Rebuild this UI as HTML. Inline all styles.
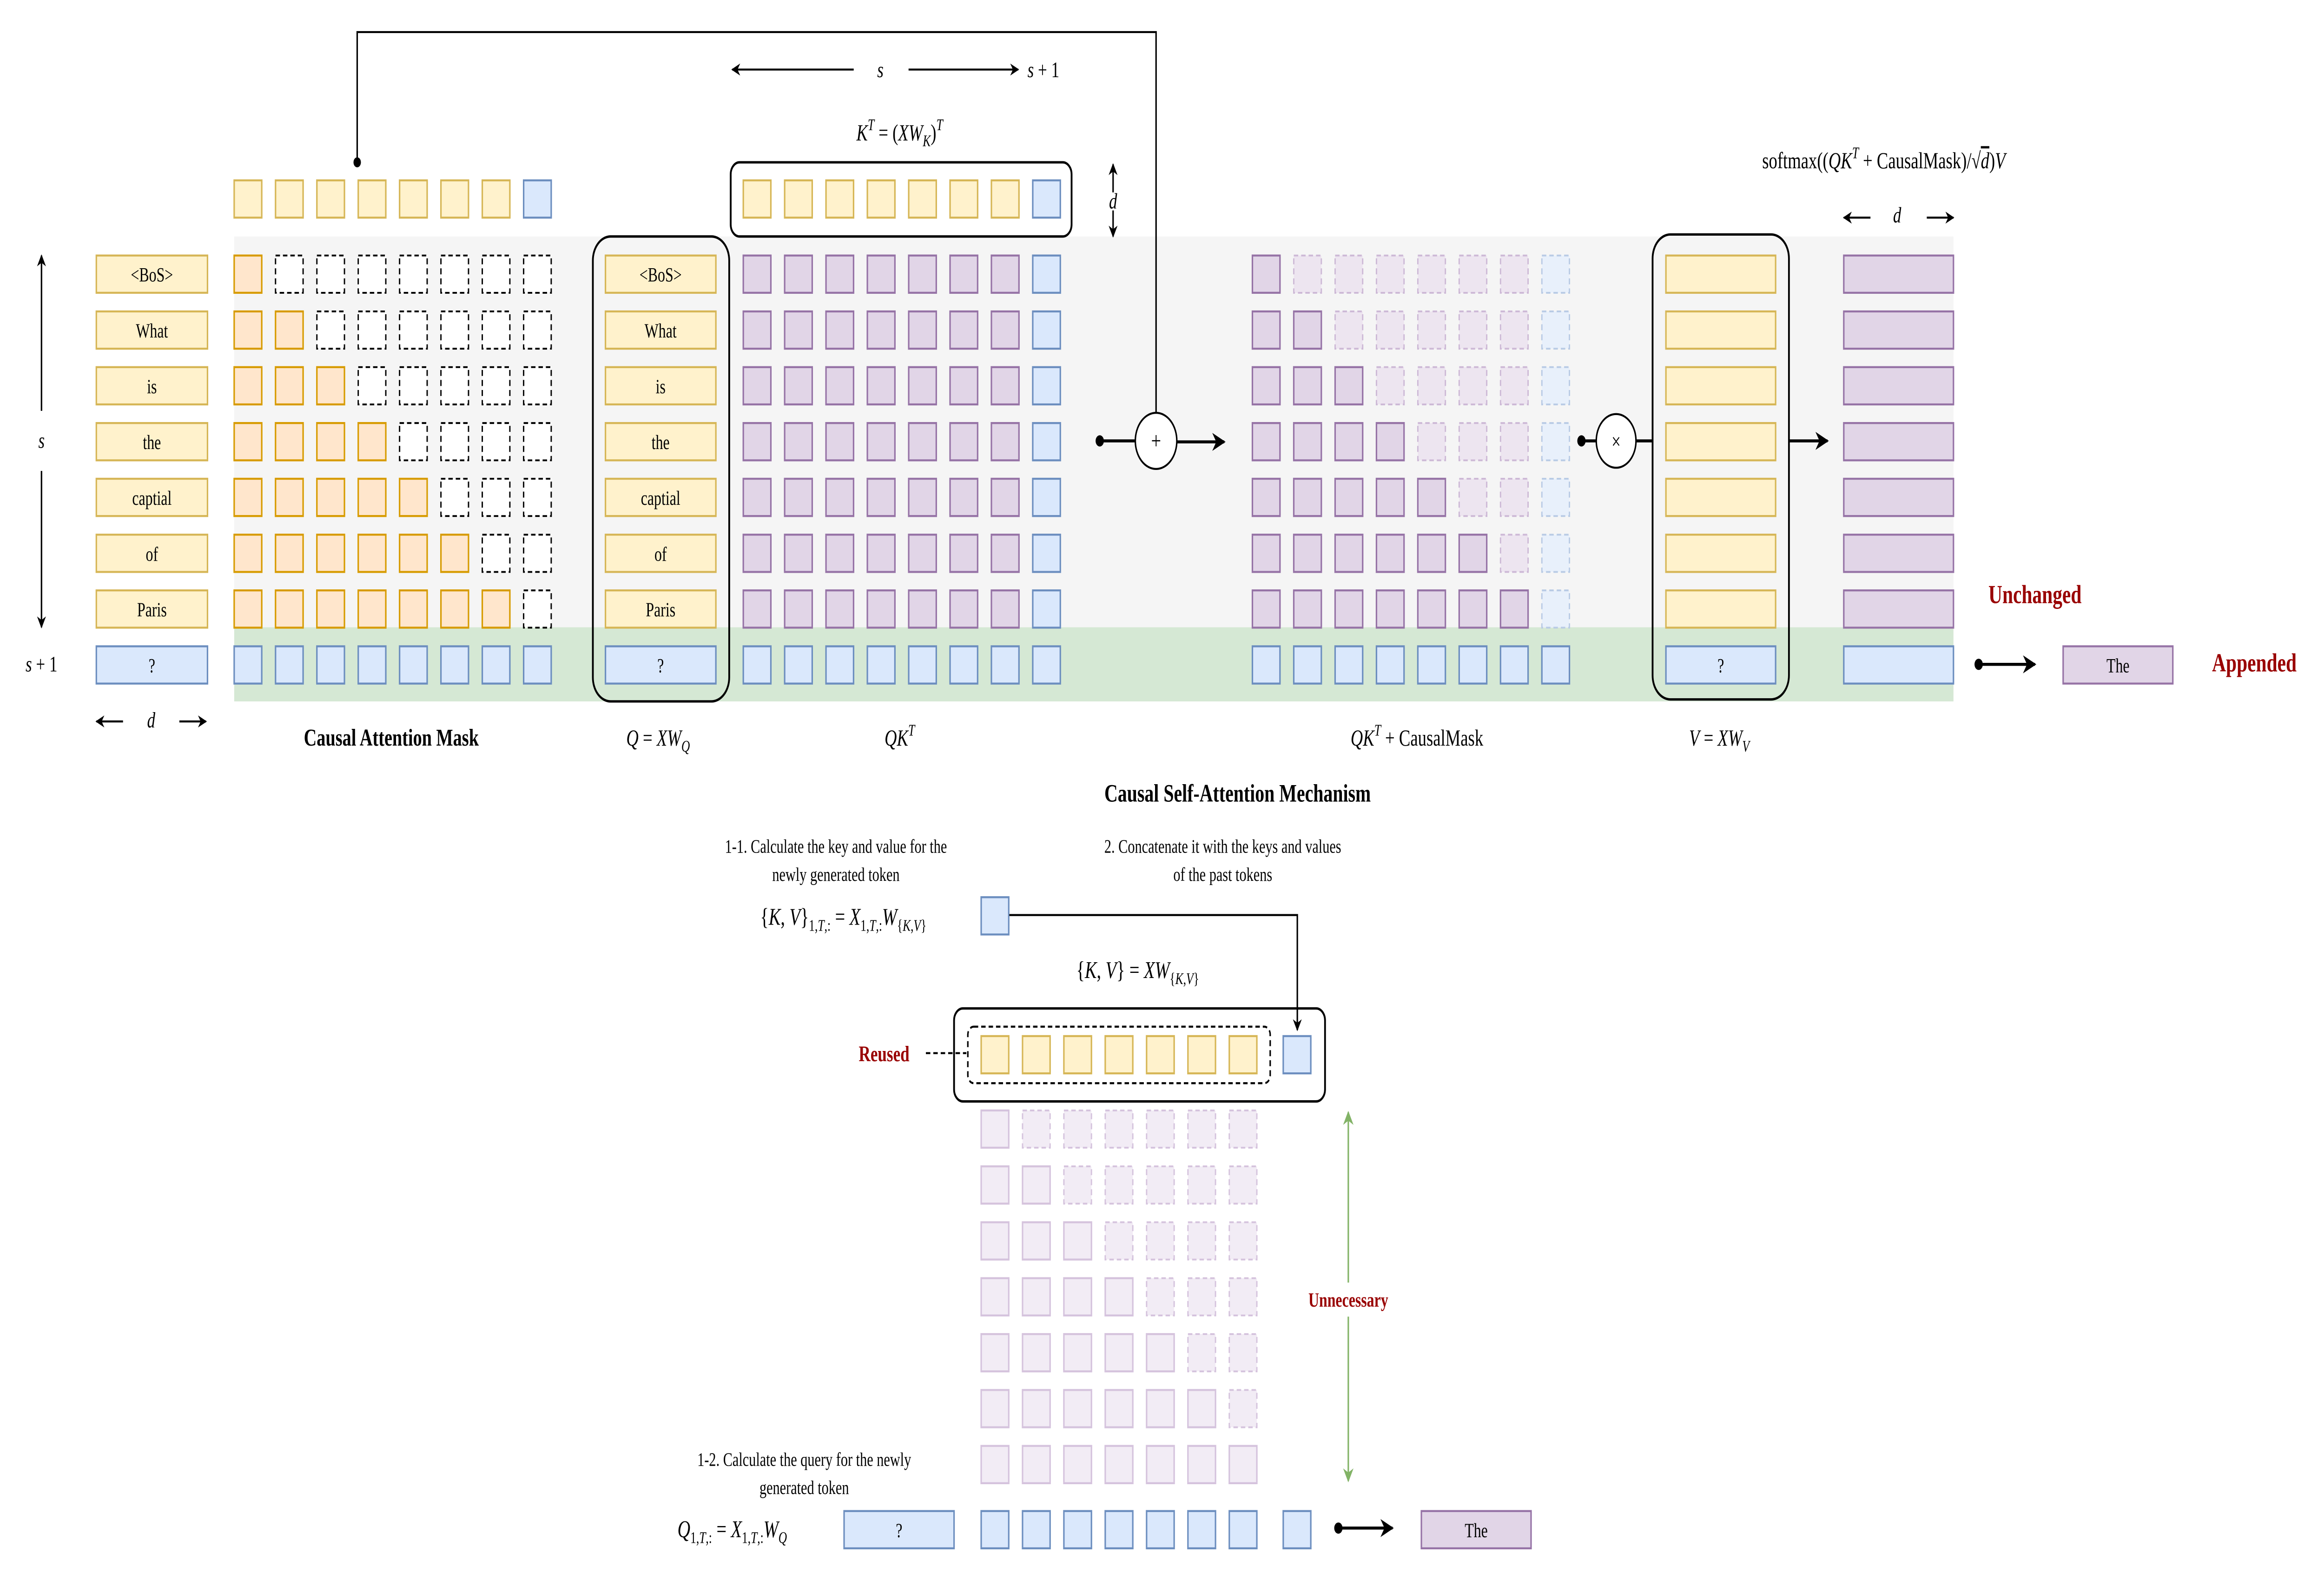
<!DOCTYPE html>
<html><head><meta charset="utf-8"><style>html,body{margin:0;padding:0;background:#fff;width:100%;height:100%;overflow:hidden}svg{display:block;width:100vw;height:100vh}text{font-family:"Liberation Serif",serif;fill:#000}</style></head><body>
<svg xmlns="http://www.w3.org/2000/svg" viewBox="0 0 1568 791.4" preserveAspectRatio="none">
<defs>
<marker id="ah" viewBox="0 0 10 10" refX="9" refY="5" markerWidth="6" markerHeight="6" orient="auto-start-reverse"><path d="M0,0 L10,5 L0,10 L3,5 z" fill="#000"/></marker>
<marker id="ahg" viewBox="0 0 10 10" refX="9" refY="5" markerWidth="7" markerHeight="9" orient="auto-start-reverse"><path d="M0,0 L10,5 L0,10 L3,5 z" fill="#82b366"/></marker>
<rect id="Y" width="18.6" height="18.6" fill="#fff2cc" stroke="#d6b656" stroke-width="1"/>
<rect id="B" width="18.6" height="18.6" fill="#dae8fc" stroke="#6c8ebf" stroke-width="1"/>
<rect id="P" width="18.6" height="18.6" fill="#e1d5e7" stroke="#9673a6" stroke-width="1"/>
<rect id="O" width="18.6" height="18.6" fill="#ffe6cc" stroke="#d79b00" stroke-width="1"/>
<rect id="D" width="18.6" height="18.6" fill="#fff" stroke="#000" stroke-width="0.9" stroke-dasharray="3,2"/>
<rect id="FP" width="18.6" height="18.6" fill="#ede5f0" stroke="#cdb9d6" stroke-width="0.9" stroke-dasharray="3,2"/>
<rect id="FB" width="18.6" height="18.6" fill="#e8f0fb" stroke="#b9cbe5" stroke-width="0.9" stroke-dasharray="3,2"/>
<rect id="LP" width="18.6" height="18.6" fill="#f2ecf5" stroke="#d5c3dd" stroke-width="1"/>
<rect id="LD" width="18.6" height="18.6" fill="#f2ecf5" stroke="#d5c3dd" stroke-width="0.9" stroke-dasharray="3,2"/>
</defs>

<rect x="158" y="118" width="1160" height="195" fill="#f5f5f5"/>
<rect x="158" y="313" width="1160" height="37" fill="#d5e8d4"/>

<path d="M241,81 V16 H780 V206" fill="none" stroke="#000" stroke-width="1"/>
<circle cx="241" cy="81" r="2.5" fill="#000"/>

<line x1="576" y1="34.7" x2="494" y2="34.7" stroke="#000" stroke-width="1" marker-end="url(#ah)"/>
<text x="594" y="38.5" font-size="11" font-style="italic" text-anchor="middle">s</text>
<line x1="613" y1="34.7" x2="687" y2="34.7" stroke="#000" stroke-width="1" marker-end="url(#ah)"/>
<text x="704" y="38.5" font-size="11" text-anchor="middle"><tspan font-style="italic">s</tspan> + 1</text>
<text x="607" y="70" font-size="11.5" text-anchor="middle"><tspan font-style="italic">K</tspan><tspan font-size="8" font-style="italic" dy="-5">T</tspan><tspan dy="5"> = (</tspan><tspan font-style="italic">XW</tspan><tspan font-size="8" font-style="italic" dy="3">K</tspan><tspan dy="-3">)</tspan><tspan font-size="8" font-style="italic" dy="-5">T</tspan></text>

<rect x="493" y="81" width="230" height="37" rx="6" fill="none" stroke="#000" stroke-width="1.2"/>
<line x1="751" y1="96" x2="751" y2="82" stroke="#000" stroke-width="1" marker-end="url(#ah)"/>
<line x1="751" y1="105" x2="751" y2="118" stroke="#000" stroke-width="1" marker-end="url(#ah)"/>
<text x="751" y="104" font-size="11" font-style="italic" text-anchor="middle">d</text>

<use href="#Y" x="158" y="90"/><use href="#Y" x="185.9" y="90"/><use href="#Y" x="213.8" y="90"/><use href="#Y" x="241.7" y="90"/><use href="#Y" x="269.6" y="90"/><use href="#Y" x="297.5" y="90"/><use href="#Y" x="325.4" y="90"/><use href="#B" x="353.3" y="90"/>
<use href="#Y" x="501.5" y="90"/><use href="#Y" x="529.4" y="90"/><use href="#Y" x="557.3" y="90"/><use href="#Y" x="585.2" y="90"/><use href="#Y" x="613.1" y="90"/><use href="#Y" x="641" y="90"/><use href="#Y" x="668.9" y="90"/><use href="#B" x="696.8" y="90"/>

<line x1="28" y1="205" x2="28" y2="127.5" stroke="#000" stroke-width="1" marker-end="url(#ah)"/>
<line x1="28" y1="235" x2="28" y2="313" stroke="#000" stroke-width="1" marker-end="url(#ah)"/>
<text x="28" y="223.5" font-size="11" font-style="italic" text-anchor="middle">s</text>
<text x="28" y="335" font-size="11" text-anchor="middle"><tspan font-style="italic">s</tspan> + 1</text>
<line x1="83" y1="360" x2="65" y2="360" stroke="#000" stroke-width="1" marker-end="url(#ah)"/>
<text x="102" y="363" font-size="11" font-style="italic" text-anchor="middle">d</text>
<line x1="121" y1="360" x2="139" y2="360" stroke="#000" stroke-width="1" marker-end="url(#ah)"/>

<g font-size="10" text-anchor="middle">
<rect x="65" y="127.5" width="75" height="18.6" fill="#fff2cc" stroke="#d6b656"/><text x="102.5" y="140.5">&lt;BoS&gt;</text>
<rect x="65" y="155.4" width="75" height="18.6" fill="#fff2cc" stroke="#d6b656"/><text x="102.5" y="168.4">What</text>
<rect x="65" y="183.2" width="75" height="18.6" fill="#fff2cc" stroke="#d6b656"/><text x="102.5" y="196.2">is</text>
<rect x="65" y="211.1" width="75" height="18.6" fill="#fff2cc" stroke="#d6b656"/><text x="102.5" y="224.1">the</text>
<rect x="65" y="238.9" width="75" height="18.6" fill="#fff2cc" stroke="#d6b656"/><text x="102.5" y="251.9">captial</text>
<rect x="65" y="266.8" width="75" height="18.6" fill="#fff2cc" stroke="#d6b656"/><text x="102.5" y="279.8">of</text>
<rect x="65" y="294.6" width="75" height="18.6" fill="#fff2cc" stroke="#d6b656"/><text x="102.5" y="307.6">Paris</text>
<rect x="65" y="322.5" width="75" height="18.6" fill="#dae8fc" stroke="#6c8ebf"/><text x="102.5" y="335.5">?</text>

<rect x="408.5" y="127.5" width="74.5" height="18.6" fill="#fff2cc" stroke="#d6b656"/><text x="445.7" y="140.5">&lt;BoS&gt;</text>
<rect x="408.5" y="155.4" width="74.5" height="18.6" fill="#fff2cc" stroke="#d6b656"/><text x="445.7" y="168.4">What</text>
<rect x="408.5" y="183.2" width="74.5" height="18.6" fill="#fff2cc" stroke="#d6b656"/><text x="445.7" y="196.2">is</text>
<rect x="408.5" y="211.1" width="74.5" height="18.6" fill="#fff2cc" stroke="#d6b656"/><text x="445.7" y="224.1">the</text>
<rect x="408.5" y="238.9" width="74.5" height="18.6" fill="#fff2cc" stroke="#d6b656"/><text x="445.7" y="251.9">captial</text>
<rect x="408.5" y="266.8" width="74.5" height="18.6" fill="#fff2cc" stroke="#d6b656"/><text x="445.7" y="279.8">of</text>
<rect x="408.5" y="294.6" width="74.5" height="18.6" fill="#fff2cc" stroke="#d6b656"/><text x="445.7" y="307.6">Paris</text>
<rect x="408.5" y="322.5" width="74.5" height="18.6" fill="#dae8fc" stroke="#6c8ebf"/><text x="445.7" y="335.5">?</text>
</g>
<rect x="400" y="118" width="92" height="232" rx="12" fill="none" stroke="#000" stroke-width="1.2"/>

<g>
<use href="#O" x="158" y="127.5"/><use href="#D" x="185.9" y="127.5"/><use href="#D" x="213.8" y="127.5"/><use href="#D" x="241.7" y="127.5"/><use href="#D" x="269.6" y="127.5"/><use href="#D" x="297.5" y="127.5"/><use href="#D" x="325.4" y="127.5"/><use href="#D" x="353.3" y="127.5"/>
<use href="#O" x="158" y="155.4"/><use href="#O" x="185.9" y="155.4"/><use href="#D" x="213.8" y="155.4"/><use href="#D" x="241.7" y="155.4"/><use href="#D" x="269.6" y="155.4"/><use href="#D" x="297.5" y="155.4"/><use href="#D" x="325.4" y="155.4"/><use href="#D" x="353.3" y="155.4"/>
<use href="#O" x="158" y="183.2"/><use href="#O" x="185.9" y="183.2"/><use href="#O" x="213.8" y="183.2"/><use href="#D" x="241.7" y="183.2"/><use href="#D" x="269.6" y="183.2"/><use href="#D" x="297.5" y="183.2"/><use href="#D" x="325.4" y="183.2"/><use href="#D" x="353.3" y="183.2"/>
<use href="#O" x="158" y="211.1"/><use href="#O" x="185.9" y="211.1"/><use href="#O" x="213.8" y="211.1"/><use href="#O" x="241.7" y="211.1"/><use href="#D" x="269.6" y="211.1"/><use href="#D" x="297.5" y="211.1"/><use href="#D" x="325.4" y="211.1"/><use href="#D" x="353.3" y="211.1"/>
<use href="#O" x="158" y="238.9"/><use href="#O" x="185.9" y="238.9"/><use href="#O" x="213.8" y="238.9"/><use href="#O" x="241.7" y="238.9"/><use href="#O" x="269.6" y="238.9"/><use href="#D" x="297.5" y="238.9"/><use href="#D" x="325.4" y="238.9"/><use href="#D" x="353.3" y="238.9"/>
<use href="#O" x="158" y="266.8"/><use href="#O" x="185.9" y="266.8"/><use href="#O" x="213.8" y="266.8"/><use href="#O" x="241.7" y="266.8"/><use href="#O" x="269.6" y="266.8"/><use href="#O" x="297.5" y="266.8"/><use href="#D" x="325.4" y="266.8"/><use href="#D" x="353.3" y="266.8"/>
<use href="#O" x="158" y="294.6"/><use href="#O" x="185.9" y="294.6"/><use href="#O" x="213.8" y="294.6"/><use href="#O" x="241.7" y="294.6"/><use href="#O" x="269.6" y="294.6"/><use href="#O" x="297.5" y="294.6"/><use href="#O" x="325.4" y="294.6"/><use href="#D" x="353.3" y="294.6"/>
<use href="#B" x="158" y="322.5"/><use href="#B" x="185.9" y="322.5"/><use href="#B" x="213.8" y="322.5"/><use href="#B" x="241.7" y="322.5"/><use href="#B" x="269.6" y="322.5"/><use href="#B" x="297.5" y="322.5"/><use href="#B" x="325.4" y="322.5"/><use href="#B" x="353.3" y="322.5"/>
</g>

<g>
<use href="#P" x="501.5" y="127.5"/><use href="#P" x="529.4" y="127.5"/><use href="#P" x="557.3" y="127.5"/><use href="#P" x="585.2" y="127.5"/><use href="#P" x="613.1" y="127.5"/><use href="#P" x="641" y="127.5"/><use href="#P" x="668.9" y="127.5"/><use href="#B" x="696.8" y="127.5"/>
<use href="#P" x="501.5" y="155.4"/><use href="#P" x="529.4" y="155.4"/><use href="#P" x="557.3" y="155.4"/><use href="#P" x="585.2" y="155.4"/><use href="#P" x="613.1" y="155.4"/><use href="#P" x="641" y="155.4"/><use href="#P" x="668.9" y="155.4"/><use href="#B" x="696.8" y="155.4"/>
<use href="#P" x="501.5" y="183.2"/><use href="#P" x="529.4" y="183.2"/><use href="#P" x="557.3" y="183.2"/><use href="#P" x="585.2" y="183.2"/><use href="#P" x="613.1" y="183.2"/><use href="#P" x="641" y="183.2"/><use href="#P" x="668.9" y="183.2"/><use href="#B" x="696.8" y="183.2"/>
<use href="#P" x="501.5" y="211.1"/><use href="#P" x="529.4" y="211.1"/><use href="#P" x="557.3" y="211.1"/><use href="#P" x="585.2" y="211.1"/><use href="#P" x="613.1" y="211.1"/><use href="#P" x="641" y="211.1"/><use href="#P" x="668.9" y="211.1"/><use href="#B" x="696.8" y="211.1"/>
<use href="#P" x="501.5" y="238.9"/><use href="#P" x="529.4" y="238.9"/><use href="#P" x="557.3" y="238.9"/><use href="#P" x="585.2" y="238.9"/><use href="#P" x="613.1" y="238.9"/><use href="#P" x="641" y="238.9"/><use href="#P" x="668.9" y="238.9"/><use href="#B" x="696.8" y="238.9"/>
<use href="#P" x="501.5" y="266.8"/><use href="#P" x="529.4" y="266.8"/><use href="#P" x="557.3" y="266.8"/><use href="#P" x="585.2" y="266.8"/><use href="#P" x="613.1" y="266.8"/><use href="#P" x="641" y="266.8"/><use href="#P" x="668.9" y="266.8"/><use href="#B" x="696.8" y="266.8"/>
<use href="#P" x="501.5" y="294.6"/><use href="#P" x="529.4" y="294.6"/><use href="#P" x="557.3" y="294.6"/><use href="#P" x="585.2" y="294.6"/><use href="#P" x="613.1" y="294.6"/><use href="#P" x="641" y="294.6"/><use href="#P" x="668.9" y="294.6"/><use href="#B" x="696.8" y="294.6"/>
<use href="#B" x="501.5" y="322.5"/><use href="#B" x="529.4" y="322.5"/><use href="#B" x="557.3" y="322.5"/><use href="#B" x="585.2" y="322.5"/><use href="#B" x="613.1" y="322.5"/><use href="#B" x="641" y="322.5"/><use href="#B" x="668.9" y="322.5"/><use href="#B" x="696.8" y="322.5"/>
</g>

<line x1="742" y1="220" x2="766" y2="220" stroke="#000" stroke-width="1.5"/>
<circle cx="742" cy="220" r="2.8" fill="#000"/>
<circle cx="780" cy="220" r="14" fill="#fff" stroke="#000" stroke-width="1"/>
<text x="780" y="224" font-size="12" text-anchor="middle">+</text>
<line x1="794" y1="220.5" x2="826" y2="220.5" stroke="#000" stroke-width="1.5" marker-end="url(#ah)"/>

<g>
<use href="#P" x="845" y="127.5"/><use href="#FP" x="872.9" y="127.5"/><use href="#FP" x="900.8" y="127.5"/><use href="#FP" x="928.7" y="127.5"/><use href="#FP" x="956.6" y="127.5"/><use href="#FP" x="984.5" y="127.5"/><use href="#FP" x="1012.4" y="127.5"/><use href="#FB" x="1040.3" y="127.5"/>
<use href="#P" x="845" y="155.4"/><use href="#P" x="872.9" y="155.4"/><use href="#FP" x="900.8" y="155.4"/><use href="#FP" x="928.7" y="155.4"/><use href="#FP" x="956.6" y="155.4"/><use href="#FP" x="984.5" y="155.4"/><use href="#FP" x="1012.4" y="155.4"/><use href="#FB" x="1040.3" y="155.4"/>
<use href="#P" x="845" y="183.2"/><use href="#P" x="872.9" y="183.2"/><use href="#P" x="900.8" y="183.2"/><use href="#FP" x="928.7" y="183.2"/><use href="#FP" x="956.6" y="183.2"/><use href="#FP" x="984.5" y="183.2"/><use href="#FP" x="1012.4" y="183.2"/><use href="#FB" x="1040.3" y="183.2"/>
<use href="#P" x="845" y="211.1"/><use href="#P" x="872.9" y="211.1"/><use href="#P" x="900.8" y="211.1"/><use href="#P" x="928.7" y="211.1"/><use href="#FP" x="956.6" y="211.1"/><use href="#FP" x="984.5" y="211.1"/><use href="#FP" x="1012.4" y="211.1"/><use href="#FB" x="1040.3" y="211.1"/>
<use href="#P" x="845" y="238.9"/><use href="#P" x="872.9" y="238.9"/><use href="#P" x="900.8" y="238.9"/><use href="#P" x="928.7" y="238.9"/><use href="#P" x="956.6" y="238.9"/><use href="#FP" x="984.5" y="238.9"/><use href="#FP" x="1012.4" y="238.9"/><use href="#FB" x="1040.3" y="238.9"/>
<use href="#P" x="845" y="266.8"/><use href="#P" x="872.9" y="266.8"/><use href="#P" x="900.8" y="266.8"/><use href="#P" x="928.7" y="266.8"/><use href="#P" x="956.6" y="266.8"/><use href="#P" x="984.5" y="266.8"/><use href="#FP" x="1012.4" y="266.8"/><use href="#FB" x="1040.3" y="266.8"/>
<use href="#P" x="845" y="294.6"/><use href="#P" x="872.9" y="294.6"/><use href="#P" x="900.8" y="294.6"/><use href="#P" x="928.7" y="294.6"/><use href="#P" x="956.6" y="294.6"/><use href="#P" x="984.5" y="294.6"/><use href="#P" x="1012.4" y="294.6"/><use href="#FB" x="1040.3" y="294.6"/>
<use href="#B" x="845" y="322.5"/><use href="#B" x="872.9" y="322.5"/><use href="#B" x="900.8" y="322.5"/><use href="#B" x="928.7" y="322.5"/><use href="#B" x="956.6" y="322.5"/><use href="#B" x="984.5" y="322.5"/><use href="#B" x="1012.4" y="322.5"/><use href="#B" x="1040.3" y="322.5"/>
</g>

<line x1="1067" y1="220" x2="1077" y2="220" stroke="#000" stroke-width="1.5"/>
<circle cx="1067" cy="220" r="2.8" fill="#000"/>
<circle cx="1090.4" cy="220" r="13.4" fill="#fff" stroke="#000" stroke-width="1"/>
<text x="1090.4" y="224" font-size="11" text-anchor="middle">×</text>
<line x1="1104" y1="220" x2="1115" y2="220" stroke="#000" stroke-width="1.5"/>

<g>
<rect x="1124" y="127.5" width="74" height="18.6" fill="#fff2cc" stroke="#d6b656"/>
<rect x="1124" y="155.4" width="74" height="18.6" fill="#fff2cc" stroke="#d6b656"/>
<rect x="1124" y="183.2" width="74" height="18.6" fill="#fff2cc" stroke="#d6b656"/>
<rect x="1124" y="211.1" width="74" height="18.6" fill="#fff2cc" stroke="#d6b656"/>
<rect x="1124" y="238.9" width="74" height="18.6" fill="#fff2cc" stroke="#d6b656"/>
<rect x="1124" y="266.8" width="74" height="18.6" fill="#fff2cc" stroke="#d6b656"/>
<rect x="1124" y="294.6" width="74" height="18.6" fill="#fff2cc" stroke="#d6b656"/>
<rect x="1124" y="322.5" width="74" height="18.6" fill="#dae8fc" stroke="#6c8ebf"/>
<text x="1161" y="335.5" font-size="10" text-anchor="middle">?</text>
</g>
<rect x="1115" y="117" width="92" height="232" rx="12" fill="none" stroke="#000" stroke-width="1.2"/>
<line x1="1207" y1="220" x2="1233" y2="220" stroke="#000" stroke-width="1.5" marker-end="url(#ah)"/>

<g>
<rect x="1244" y="127.5" width="74" height="18.6" fill="#e1d5e7" stroke="#9673a6"/>
<rect x="1244" y="155.4" width="74" height="18.6" fill="#e1d5e7" stroke="#9673a6"/>
<rect x="1244" y="183.2" width="74" height="18.6" fill="#e1d5e7" stroke="#9673a6"/>
<rect x="1244" y="211.1" width="74" height="18.6" fill="#e1d5e7" stroke="#9673a6"/>
<rect x="1244" y="238.9" width="74" height="18.6" fill="#e1d5e7" stroke="#9673a6"/>
<rect x="1244" y="266.8" width="74" height="18.6" fill="#e1d5e7" stroke="#9673a6"/>
<rect x="1244" y="294.6" width="74" height="18.6" fill="#e1d5e7" stroke="#9673a6"/>
<rect x="1244" y="322.5" width="74" height="18.6" fill="#dae8fc" stroke="#6c8ebf"/>
</g>
<text x="1271" y="84" font-size="11.5" text-anchor="middle">softmax((<tspan font-style="italic">QK</tspan><tspan font-size="8" font-style="italic" dy="-5">T</tspan><tspan dy="5"> + CausalMask)/√</tspan><tspan font-style="italic" text-decoration="overline">d</tspan>)<tspan font-style="italic">V</tspan></text>
<line x1="1262" y1="108.6" x2="1244" y2="108.6" stroke="#000" stroke-width="1" marker-end="url(#ah)"/>
<text x="1280" y="111" font-size="11" font-style="italic" text-anchor="middle">d</text>
<line x1="1300" y1="108.6" x2="1318" y2="108.6" stroke="#000" stroke-width="1" marker-end="url(#ah)"/>

<text x="1373" y="301" font-size="13" font-weight="bold" style="fill:#990000" text-anchor="middle">Unchanged</text>
<line x1="1335" y1="331.5" x2="1373" y2="331.5" stroke="#000" stroke-width="1.5" marker-end="url(#ah)"/>
<circle cx="1335" cy="331.5" r="2.8" fill="#000"/>
<rect x="1392" y="322.5" width="74" height="18.6" fill="#e1d5e7" stroke="#9673a6"/>
<text x="1429" y="335.5" font-size="10" text-anchor="middle">The</text>
<text x="1521" y="335" font-size="13" font-weight="bold" style="fill:#990000" text-anchor="middle">Appended</text>

<text x="264" y="372" font-size="12" font-weight="bold" text-anchor="middle">Causal Attention Mask</text>
<text x="444" y="372" font-size="11.5" text-anchor="middle"><tspan font-style="italic">Q</tspan> = <tspan font-style="italic">XW</tspan><tspan font-size="8" font-style="italic" dy="3">Q</tspan></text>
<text x="607" y="372" font-size="11.5" text-anchor="middle"><tspan font-style="italic">QK</tspan><tspan font-size="8" font-style="italic" dy="-5">T</tspan></text>
<text x="956" y="372" font-size="11.5" text-anchor="middle"><tspan font-style="italic">QK</tspan><tspan font-size="8" font-style="italic" dy="-5">T</tspan><tspan dy="5"> + CausalMask</tspan></text>
<text x="1160" y="372" font-size="11.5" text-anchor="middle"><tspan font-style="italic">V</tspan> = <tspan font-style="italic">XW</tspan><tspan font-size="8" font-style="italic" dy="3">V</tspan></text>
<text x="835" y="400" font-size="12.5" font-weight="bold" text-anchor="middle">Causal Self-Attention Mechanism</text>

<g font-size="9.5" text-anchor="middle">
<text x="564" y="425.5">1-1. Calculate the key and value for the</text>
<text x="564" y="439.5">newly generated token</text>
<text x="825" y="425.5">2. Concatenate it with the keys and values</text>
<text x="825" y="439.5">of the past tokens</text>
<text x="542.6" y="731.5">1-2. Calculate the query for the newly</text>
<text x="542.6" y="745.5">generated token</text>
</g>
<text x="569" y="461.5" font-size="12" text-anchor="middle">{<tspan font-style="italic">K</tspan>, <tspan font-style="italic">V</tspan>}<tspan font-size="8" dy="3">1,<tspan font-style="italic">T</tspan>,:</tspan><tspan dy="-3"> = </tspan><tspan font-style="italic">X</tspan><tspan font-size="8" dy="3">1,<tspan font-style="italic">T</tspan>,:</tspan><tspan dy="-3" font-style="italic">W</tspan><tspan font-size="8" dy="3">{<tspan font-style="italic">K</tspan>,<tspan font-style="italic">V</tspan>}</tspan></text>
<use href="#B" x="662" y="447.7"/>
<path d="M681,456.6 H875.3 V514" fill="none" stroke="#000" stroke-width="1" marker-end="url(#ah)"/>
<text x="767.6" y="488" font-size="12" text-anchor="middle">{<tspan font-style="italic">K</tspan>, <tspan font-style="italic">V</tspan>} = <tspan font-style="italic">XW</tspan><tspan font-size="8" dy="3">{<tspan font-style="italic">K</tspan>,<tspan font-style="italic">V</tspan>}</tspan></text>

<rect x="643.7" y="503.2" width="250.3" height="46.4" rx="6" fill="none" stroke="#000" stroke-width="1.2"/>
<rect x="653" y="512.3" width="204" height="28.2" rx="4" fill="none" stroke="#000" stroke-width="1" stroke-dasharray="3,2"/>
<use href="#Y" x="662" y="517"/><use href="#Y" x="689.9" y="517"/><use href="#Y" x="717.8" y="517"/><use href="#Y" x="745.7" y="517"/><use href="#Y" x="773.6" y="517"/><use href="#Y" x="801.5" y="517"/><use href="#Y" x="829.4" y="517"/><use href="#B" x="865.8" y="517"/>
<text x="596.5" y="529.5" font-size="11" font-weight="bold" style="fill:#990000" text-anchor="middle">Reused</text>
<line x1="624.7" y1="525.5" x2="652" y2="525.5" stroke="#000" stroke-width="1" stroke-dasharray="3,2"/>

<g>
<use href="#LP" x="662" y="554.1"/><use href="#LD" x="689.9" y="554.1"/><use href="#LD" x="717.8" y="554.1"/><use href="#LD" x="745.7" y="554.1"/><use href="#LD" x="773.6" y="554.1"/><use href="#LD" x="801.5" y="554.1"/><use href="#LD" x="829.4" y="554.1"/>
<use href="#LP" x="662" y="582"/><use href="#LP" x="689.9" y="582"/><use href="#LD" x="717.8" y="582"/><use href="#LD" x="745.7" y="582"/><use href="#LD" x="773.6" y="582"/><use href="#LD" x="801.5" y="582"/><use href="#LD" x="829.4" y="582"/>
<use href="#LP" x="662" y="609.9"/><use href="#LP" x="689.9" y="609.9"/><use href="#LP" x="717.8" y="609.9"/><use href="#LD" x="745.7" y="609.9"/><use href="#LD" x="773.6" y="609.9"/><use href="#LD" x="801.5" y="609.9"/><use href="#LD" x="829.4" y="609.9"/>
<use href="#LP" x="662" y="637.8"/><use href="#LP" x="689.9" y="637.8"/><use href="#LP" x="717.8" y="637.8"/><use href="#LP" x="745.7" y="637.8"/><use href="#LD" x="773.6" y="637.8"/><use href="#LD" x="801.5" y="637.8"/><use href="#LD" x="829.4" y="637.8"/>
<use href="#LP" x="662" y="665.7"/><use href="#LP" x="689.9" y="665.7"/><use href="#LP" x="717.8" y="665.7"/><use href="#LP" x="745.7" y="665.7"/><use href="#LP" x="773.6" y="665.7"/><use href="#LD" x="801.5" y="665.7"/><use href="#LD" x="829.4" y="665.7"/>
<use href="#LP" x="662" y="693.6"/><use href="#LP" x="689.9" y="693.6"/><use href="#LP" x="717.8" y="693.6"/><use href="#LP" x="745.7" y="693.6"/><use href="#LP" x="773.6" y="693.6"/><use href="#LP" x="801.5" y="693.6"/><use href="#LD" x="829.4" y="693.6"/>
<use href="#LP" x="662" y="721.5"/><use href="#LP" x="689.9" y="721.5"/><use href="#LP" x="717.8" y="721.5"/><use href="#LP" x="745.7" y="721.5"/><use href="#LP" x="773.6" y="721.5"/><use href="#LP" x="801.5" y="721.5"/><use href="#LP" x="829.4" y="721.5"/>
</g>

<line x1="909.7" y1="640" x2="909.7" y2="555" stroke="#82b366" stroke-width="1" marker-end="url(#ahg)"/>
<line x1="909.7" y1="657" x2="909.7" y2="739" stroke="#82b366" stroke-width="1" marker-end="url(#ahg)"/>
<text x="909.7" y="652" font-size="10" font-weight="bold" style="fill:#990000" text-anchor="middle">Unnecessary</text>

<text x="494" y="767" font-size="12" text-anchor="middle"><tspan font-style="italic">Q</tspan><tspan font-size="8" dy="3">1,<tspan font-style="italic">T</tspan>,:</tspan><tspan dy="-3"> = </tspan><tspan font-style="italic">X</tspan><tspan font-size="8" dy="3">1,<tspan font-style="italic">T</tspan>,:</tspan><tspan dy="-3" font-style="italic">W</tspan><tspan font-size="8" font-style="italic" dy="3">Q</tspan></text>
<rect x="569.5" y="754" width="74.2" height="18.6" fill="#dae8fc" stroke="#6c8ebf"/>
<text x="606.6" y="767" font-size="10" text-anchor="middle">?</text>
<use href="#B" x="662" y="754"/><use href="#B" x="689.9" y="754"/><use href="#B" x="717.8" y="754"/><use href="#B" x="745.7" y="754"/><use href="#B" x="773.6" y="754"/><use href="#B" x="801.5" y="754"/><use href="#B" x="829.4" y="754"/><use href="#B" x="865.8" y="754"/>
<line x1="903" y1="762.5" x2="939.5" y2="762.5" stroke="#000" stroke-width="1.5" marker-end="url(#ah)"/>
<circle cx="903" cy="762.5" r="2.8" fill="#000"/>
<rect x="959" y="754" width="74" height="18.6" fill="#e1d5e7" stroke="#9673a6"/>
<text x="996" y="767" font-size="10" text-anchor="middle">The</text>
</svg>
</body></html>
